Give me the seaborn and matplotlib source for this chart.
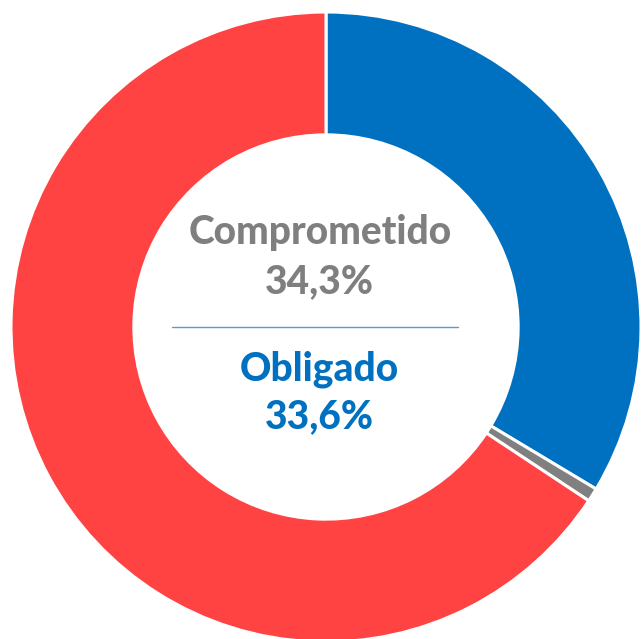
import matplotlib
matplotlib.use("Agg")
import matplotlib.pyplot as plt
import seaborn as sns

# data (percent of budget)
labels = ["Obligado", "Comprometido sin obligar", "Por comprometer"]
comprometido = 34.3
obligado = 33.6
values = [obligado, comprometido - obligado, 100 - comprometido]
colors = ["#0070C0", "#808080", "#FF4343"]

sns.set_theme(style="white")
plt.rcParams["font.family"] = ["Lato", "DejaVu Sans"]

fig = plt.figure(figsize=(6.41, 6.39), dpi=100)
ax = fig.add_axes([11 / 641, -3 / 639, 630 / 641, 630 / 639])

ax.pie(values, colors=colors, startangle=90, counterclock=False, radius=1,
       wedgeprops=dict(width=0.39, edgecolor="white", linewidth=2.2))
ax.set_xlim(-1, 1)
ax.set_ylim(-1, 1)
ax.set_aspect("auto")
ax.axis("off")

gray = "#7F7F7F"
blue = "#0070C0"
txt = dict(ha="center", va="center", fontsize=28, fontweight="black")
ax.text(-0.02, 0.30, "Comprometido", color=gray, **txt)
ax.text(-0.02, 0.145, f"{comprometido:.1f}%".replace(".", ","), color=gray, **txt)
ax.plot([-0.49, 0.42], [0.0, 0.0], color="#5B9BD5", lw=1)
ax.text(-0.02, -0.135, "Obligado", color=blue, **txt)
ax.text(-0.02, -0.285, f"{obligado:.1f}%".replace(".", ","), color=blue, **txt)

fig.savefig("out.png", dpi=100)
